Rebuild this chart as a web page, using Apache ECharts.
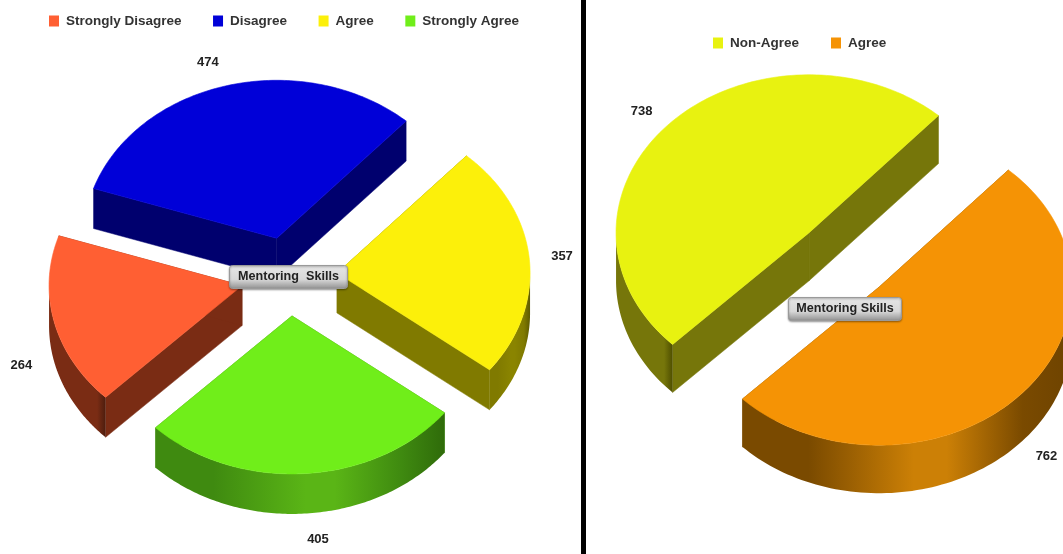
<!DOCTYPE html>
<html><head><meta charset="utf-8">
<style>
html,body{margin:0;padding:0;background:#fff;overflow:hidden}
#l{position:absolute;left:0;top:0;width:581px;height:554px}
#bar{position:absolute;left:581px;top:0;width:5px;height:554px;background:#000}
#r{position:absolute;left:586px;top:0;width:477px;height:554px}
</style>
<script src="https://cdn.jsdelivr.net/npm/echarts@6/dist/echarts.min.js"></script>
</head><body>
<div id="l"></div><div id="bar"></div><div id="r"></div>
<script>
const leftCategories = ['Strongly Disagree', 'Disagree', 'Agree', 'Strongly Agree'];
const leftValues = [264, 474, 357, 405];
const leftColors = ['#ff5f33', '#0000d8', '#fcf00a', '#70ee1a'];
const leftWalls = ['#7a2c14', '#00006e', '#807a00', '#3f8a10'];
const leftWallGlow = ['#7a2c14', '#00006e', '#8a8400', '#5ab516'];
const rightCategories = ['Non-Agree', 'Agree'];
const rightValues = [738, 762];
const rightColors = ['#e8f210', '#f59305'];
const rightWalls = ['#76760a', '#7a4a00'];
const rightWallGlow = ['#76760a', '#cc8006'];
const centerTitles = ['Mentoring  Skills', 'Mentoring Skills'];

const FAMILY = '"Liberation Sans", Arial, sans-serif';
const RAD = Math.PI / 180;

function pieChart(el, opt) {
  const total = opt.values.reduce((a, b) => a + b, 0);
  const G = opt.geom;
  let acc = 225;
  const series = opt.names.map((name, i) => {
    const start = acc;
    const sweep = opt.values[i] / total * 360;
    const end = start - sweep;
    acc = end;
    const mid = (start + end) / 2;
    return {
      type: 'custom', name, coordinateSystem: 'none', silent: true,
      itemStyle: { color: opt.colors[i] },
      data: [opt.values[i]],
      renderItem: function (params, api) {
        const v = api.value(0);
        const ax = G.cx + G.e * G.a * Math.cos(mid * RAD);
        const ay = G.cy - G.e * G.b * Math.sin(mid * RAD);
        const P = t => [ax + G.a * Math.cos(t * RAD), ay - G.b * Math.sin(t * RAD)];
        const top = [[ax, ay]];
        for (let k = 0; k <= 120; k++) top.push(P(start - sweep * k / 120));
        const down = p => [p[0], p[1] + G.d];
        const children = [];
        const wall = opt.walls[i], glow = opt.glow[i];
        [[[ax, ay], P(start)], [[ax, ay], P(end)]].forEach(s => {
          children.push({ type: 'polygon', shape: { points: [s[0], s[1], down(s[1]), down(s[0])] },
            style: { fill: wall, stroke: wall, lineWidth: 0.5 } });
        });
        const vis = [];
        for (let k = 0; k <= 120; k++) {
          const t = start - sweep * k / 120;
          if (Math.sin(t * RAD) <= 0) vis.push(P(t));
        }
        if (vis.length > 1) {
          const pts = vis.concat(vis.slice().reverse().map(down));
          children.push({ type: 'polygon', shape: { points: pts }, style: {
            fill: { type: 'linear', x: 0, y: 0, x2: 1, y2: 0, colorStops: [
              { offset: 0, color: wall }, { offset: 0.2, color: wall },
              { offset: 0.52, color: glow }, { offset: 0.62, color: glow },
              { offset: 0.85, color: wall }, { offset: 1, color: opt.edge[i] }] } } });
        }
        children.push({ type: 'polygon', shape: { points: top },
          style: { fill: opt.colors[i], stroke: opt.colors[i], lineWidth: 0.6 } });
        const la = (mid + opt.nudge[i]) * RAD, r = G.lab;
        const lx = ax + G.a * r * Math.cos(la);
        const ly = ay - G.b * r * Math.sin(la) + (Math.sin(la) < 0 ? G.d : 0);
        children.push({ type: 'text', style: { text: String(v), x: lx, y: ly, align: 'center',
          verticalAlign: 'middle', font: 'bold 13px ' + FAMILY, fill: '#222' } });
        return { type: 'group', children };
      }
    };
  });
  const chart = echarts.init(el, null, { renderer: 'canvas' });
  chart.setOption({
    animation: false, backgroundColor: '#fff',
    legend: { left: opt.legend[0], top: opt.legend[1], icon: 'rect', itemWidth: 10, itemHeight: 11,
      itemGap: opt.legend[2], selectedMode: false, padding: 0, data: opt.names,
      textStyle: { fontSize: 13.5, fontWeight: 'bold', fontFamily: FAMILY,
        color: '#333', padding: [1, 0, 0, 2] } },
    series,
    graphic: [{
      type: 'group', left: opt.box[0], top: opt.box[1], children: [
        { type: 'rect', z: 100, zlevel: 1, shape: { x: 0, y: 0, width: opt.box[2], height: opt.box[3], r: 3 },
          style: { stroke: '#9a9a9a', lineWidth: 1,
            fill: { type: 'linear', x: 0, y: 0, x2: 0, y2: 1, colorStops: [
              { offset: 0, color: '#e6e6e6' }, { offset: 0.6, color: '#d8d8d8' }, { offset: 1, color: '#8f8f8f' }] },
            shadowBlur: 2, shadowColor: 'rgba(0,0,0,0.35)', shadowOffsetY: 1 } },
        { type: 'text', z: 101, zlevel: 1, style: { text: opt.title, x: opt.box[2] / 2, y: opt.box[3] / 2, align: 'center',
          verticalAlign: 'middle', font: 'bold 12.6px ' + FAMILY, fill: '#222' } }
      ] }]
  });
}

pieChart(document.getElementById('l'), {
  names: leftCategories, values: leftValues, colors: leftColors, walls: leftWalls, glow: leftWallGlow,
  edge: ['#4d1d0e', '#00006e', '#5d5a00', '#2f6b0a'], nudge: [-1, 3, 0, 3],
  geom: { cx: 289, cy: 276.5, a: 193, b: 158, e: 0.25, d: 40, lab: 1.17 },
  legend: [49, 14, 31.5], box: [229, 265, 118, 23], title: centerTitles[0]
});
pieChart(document.getElementById('r'), {
  names: rightCategories, values: rightValues, colors: rightColors, walls: rightWalls, glow: rightWallGlow,
  edge: ['#4f4f00', '#6e4300'], nudge: [2, 2],
  geom: { cx: 258, cy: 260, a: 193, b: 158, e: 0.25, d: 48, lab: 1.16 },
  legend: [127, 36, 32], box: [202, 297, 113, 23], title: centerTitles[1]
});
</script>
</body></html>
